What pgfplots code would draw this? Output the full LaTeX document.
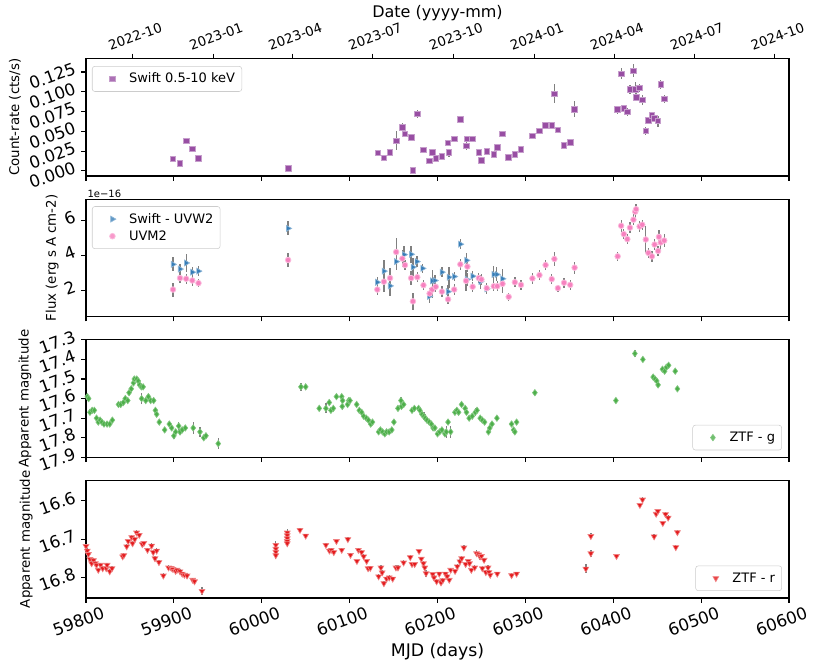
\documentclass[border=0pt]{standalone}
\usepackage{fontspec}
\setmainfont{DejaVu Sans}
\usepackage{pgfplots}
\usepackage{pgfplotstable}
\pgfplotsset{compat=1.18}

\definecolor{cpurple}{RGB}{152,78,163}
\definecolor{cblue}{RGB}{55,126,184}
\definecolor{cpink}{RGB}{247,129,191}
\definecolor{cgreen}{RGB}{77,175,74}
\definecolor{cred}{RGB}{228,26,28}

\newcommand{\bigtick}{\fontsize{12.5}{14}\selectfont}
\newcommand{\labfont}{\fontsize{10}{12}\selectfont}

\pgfplotstableread{
x y e
59899 0.0152 0.002
59907 0.0098 0.002
59914 0.038 0.003
59921 0.028 0.003
59928 0.016 0.002
60030 0.0034 0.001
60132 0.0228 0.003
60139 0.0165 0.002
60146 0.0237 0.004
60153.5 0.038 0.012
60160 0.055 0.005
60163 0.0466 0.004
60170 0.042 0.004
60172 0.0004 0.002
60177 0.072 0.005
60184 0.0266 0.003
60191 0.0127 0.003
60194 0.0232 0.003
60198 0.0156 0.002
60205 0.0182 0.002
60212 0.0355 0.004
60213 0.0232 0.005
60219 0.0406 0.004
60226 0.065 0.004
60233 0.0317 0.005
60234 0.0406 0.004
60240 0.0406 0.004
60247 0.0237 0.004
60250 0.0136 0.003
60256 0.0245 0.003
60264 0.0212 0.002
60268 0.030 0.004
60274 0.047 0.004
60281 0.0174 0.002
60288 0.0212 0.003
60295 0.027 0.004
60308 0.044 0.004
60316 0.0508 0.004
60323 0.0575 0.004
60330 0.0575 0.004
60333 0.0973 0.012
60337 0.0516 0.003
60344 0.0321 0.004
60351 0.0359 0.004
60356 0.078 0.010
60405 0.0774 0.005
60409 0.1227 0.007
60412 0.0787 0.004
60416 0.0745 0.005
60419 0.103 0.006
60423 0.1265 0.008
60425 0.103 0.009
60426 0.093 0.005
60429.5 0.105 0.005
60433 0.0897 0.006
60437 0.0504 0.005
60440 0.0638 0.004
60444 0.0698 0.004
60447 0.0664 0.004
60451 0.063 0.007
60454 0.109 0.006
60458 0.091 0.005
}\xraydata

\pgfplotstableread{
x y e
59899 3.49 0.4
59907 3.22 0.3
59914 3.57 0.5
59921 3.04 0.3
59928 3.10 0.3
60030 5.56 0.4
60131.5 2.46 0.3
60139 3.10 0.65
60146 2.25 0.6
60153 3.65 0.5
60162 4.05 0.5
60170 4.07 0.5
60172 3.33 0.5
60176.5 3.65 0.3
60183 3.26 0.25
60190.6 1.65 0.4
60194 2.54 0.6
60197 2.56 0.3
60205 3.04 0.3
60212 1.92 0.4
60213 2.75 0.6
60219 2.79 0.25
60226 4.65 0.3
60233 3.72 0.4
60233.5 2.62 0.4
60240 2.81 0.3
60249 2.50 0.4
60256 2.08 0.3
60264 2.91 0.5
60267.5 2.91 0.4
60274 2.66 0.55
}\uvwdata

\pgfplotstableread{
x y e
59899 2.04 0.4
59907 2.70 0.3
59914 2.66 0.3
59921 2.56 0.3
59928 2.41 0.25
60030 3.74 0.4
60131.5 2.04 0.3
60139 2.49 0.6
60146 2.70 0.6
60153 4.20 0.8
60160 3.82 0.5
60163 3.45 0.3
60170 2.70 0.4
60172 1.36 0.5
60177 2.75 0.3
60184 2.29 0.3
60191 1.81 0.3
60194 2.04 0.5
60198 2.20 0.3
60205 1.92 0.3
60212 1.48 0.3
60219 2.04 0.3
60226 3.49 0.3
60232.5 2.54 0.6
60234 3.36 0.3
60240 2.20 0.3
60247 2.70 0.3
60250 2.62 0.3
60256 2.12 0.3
60264 2.23 0.3
60268 2.23 0.3
60274 2.37 0.5
60281 1.62 0.25
60288 2.46 0.3
60295 2.31 0.3
60308 2.68 0.3
60316 2.87 0.3
60323 3.45 0.3
60330 2.64 0.3
60333 3.80 0.4
60337 2.12 0.2
60344 2.43 0.3
60351 2.31 0.3
60356 3.30 0.35
60405 3.95 0.25
60409 5.71 0.35
60412 5.23 0.3
60416 4.94 0.3
60419 5.60 0.3
60423 6.06 0.3
60425 6.52 0.35
60426 6.66 0.3
60430 5.67 0.3
60433 5.77 0.3
60437 4.92 0.75
60440 4.15 0.3
60444 3.95 0.3
60447 4.63 0.3
60451 4.26 0.3
60452 5.07 0.4
60454 4.75 0.5
60458 4.86 0.4
}\uvmdata

\pgfplotstableread{
x y e
59801.5 17.59 0.01
59803 17.60 0.01
59804.5 17.67 0.015
59807 17.66 0.01
59809.5 17.66 0.01
59812 17.70 0.01
59814 17.72 0.01
59816 17.71 0.01
59818 17.72 0.01
59820.5 17.73 0.01
59824 17.73 0.01
59827 17.73 0.01
59830 17.71 0.01
59837 17.63 0.01
59839.5 17.63 0.01
59842.5 17.62 0.01
59844.7 17.60 0.01
59847.5 17.61 0.01
59849 17.57 0.01
59851.5 17.55 0.01
59854 17.52 0.01
59855 17.50 0.01
59857.7 17.50 0.01
59859.5 17.51 0.01
59861 17.53 0.01
59863 17.54 0.01
59865 17.54 0.01
59863.3 17.60 0.03
59868 17.61 0.01
59871 17.59 0.01
59873.6 17.61 0.01
59877 17.61 0.01
59879 17.66 0.01
59880.4 17.68 0.01
59883.4 17.72 0.01
59889.5 17.76 0.015
59894.8 17.73 0.01
59897.5 17.75 0.01
59900 17.79 0.015
59902 17.77 0.015
59905.5 17.74 0.02
59907 17.77 0.015
59909.5 17.76 0.01
59913 17.75 0.01
59922 17.75 0.03
59929.7 17.77 0.025
59934 17.80 0.015
59936.5 17.79 0.01
59950.5 17.83 0.03
60044.6 17.54 0.02
60050 17.54 0.01
60065.4 17.65 0.01
60073 17.65 0.025
60076.8 17.62 0.01
60078.7 17.66 0.01
60081.4 17.65 0.01
60085 17.59 0.01
60091 17.59 0.01
60091.6 17.64 0.02
60092 17.61 0.01
60097.7 17.63 0.01
60099 17.61 0.01
60100.4 17.61 0.015
60108 17.63 0.01
60111 17.66 0.01
60113.7 17.67 0.01
60116 17.69 0.01
60119 17.70 0.01
60121.4 17.71 0.01
60124 17.73 0.01
60126 17.72 0.01
60133 17.77 0.01
60135 17.76 0.01
60137.5 17.77 0.01
60140 17.78 0.01
60142 17.77 0.01
60145 17.77 0.01
60148 17.76 0.01
60150.4 17.72 0.01
60155 17.65 0.01
60158.4 17.61 0.02
60159 17.64 0.01
60161.5 17.63 0.01
60171 17.66 0.01
60173.7 17.65 0.01
60178.5 17.65 0.01
60180 17.66 0.01
60182.3 17.68 0.01
60184.5 17.69 0.02
60186 17.70 0.02
60188 17.71 0.01
60190.6 17.72 0.01
60193 17.73 0.01
60195 17.75 0.01
60197 17.75 0.01
60200 17.78 0.01
60202.4 17.77 0.01
60205 17.76 0.01
60208.5 17.78 0.01
60210 17.77 0.03
60212 17.72 0.01
60215 17.77 0.03
60219.8 17.67 0.01
60222 17.66 0.01
60224 17.67 0.01
60227.4 17.63 0.01
60231.5 17.65 0.01
60233 17.67 0.01
60236 17.70 0.01
60239.5 17.69 0.01
60243 17.67 0.02
60245 17.66 0.01
60248.6 17.70 0.01
60251 17.71 0.01
60253.6 17.72 0.01
60258 17.77 0.01
60259.5 17.75 0.01
60262 17.73 0.01
60267.6 17.70 0.01
60284.3 17.73 0.015
60286.6 17.76 0.01
60288 17.77 0.01
60290 17.72 0.01
60310.8 17.57 0.01
60403 17.61 0.015
60424.6 17.37 0.02
60433.7 17.40 0.01
60445.4 17.49 0.01
60447.5 17.50 0.01
60449.5 17.51 0.01
60451 17.53 0.01
60456 17.45 0.01
60458.5 17.46 0.01
60460.5 17.44 0.01
60463 17.43 0.01
60470.5 17.46 0.01
60473 17.55 0.01
}\gdata

\pgfplotstableread{
x y e
59800 16.718 0.006
59801.5 16.730 0.006
59802.7 16.739 0.006
59804.5 16.752 0.006
59806.4 16.763 0.006
59808.5 16.755 0.006
59810.6 16.763 0.006
59812 16.767 0.006
59814 16.780 0.006
59816.6 16.767 0.006
59819 16.776 0.006
59823 16.776 0.006
59824 16.767 0.006
59827 16.784 0.006
59829.6 16.776 0.006
59841.7 16.745 0.006
59843 16.742 0.006
59846.3 16.719 0.006
59848 16.705 0.006
59852 16.695 0.006
59853 16.711 0.006
59855.5 16.700 0.006
59857.6 16.683 0.006
59860.6 16.689 0.006
59864 16.713 0.006
59865.8 16.710 0.006
59870 16.728 0.006
59874.7 16.717 0.006
59876.5 16.734 0.006
59878.5 16.750 0.006
59880.4 16.730 0.006
59883 16.760 0.006
59888 16.795 0.008
59894 16.774 0.006
59897 16.775 0.006
59899 16.778 0.006
59902 16.783 0.008
59903.6 16.780 0.006
59907 16.784 0.006
59909.5 16.790 0.006
59912 16.793 0.006
59915 16.795 0.006
59921.4 16.806 0.006
59923.5 16.810 0.006
59932 16.835 0.010
60016 16.715 0.010
60016 16.725 0.010
60016 16.733 0.010
60016 16.742 0.010
60029 16.683 0.010
60029 16.690 0.010
60029 16.698 0.010
60029 16.705 0.010
60029 16.711 0.010
60043.5 16.676 0.006
60050 16.691 0.006
60073 16.715 0.006
60077 16.730 0.006
60079 16.728 0.006
60082 16.734 0.006
60085 16.705 0.006
60091 16.728 0.006
60098 16.700 0.006
60101 16.741 0.006
60108.3 16.757 0.006
60110 16.728 0.006
60113.6 16.734 0.006
60116 16.745 0.006
60119.4 16.757 0.006
60121 16.776 0.006
60123.5 16.775 0.006
60133 16.797 0.006
60135.6 16.774 0.006
60137 16.787 0.006
60139 16.815 0.006
60142 16.803 0.006
60145 16.800 0.006
60149 16.803 0.006
60152.7 16.774 0.006
60155 16.774 0.006
60161.4 16.761 0.006
60169 16.747 0.006
60171 16.765 0.006
60174 16.765 0.006
60179 16.731 0.006
60181.6 16.751 0.006
60184 16.763 0.006
60185.5 16.774 0.006
60187 16.789 0.008
60194.5 16.791 0.006
60196 16.800 0.006
60199 16.810 0.006
60202 16.790 0.006
60204 16.813 0.006
60206 16.807 0.006
60209 16.790 0.006
60211 16.797 0.006
60213.4 16.806 0.006
60215 16.780 0.006
60220 16.783 0.006
60222.5 16.771 0.006
60225.5 16.758 0.006
60227.5 16.750 0.006
60230 16.722 0.006
60232 16.765 0.006
60235 16.757 0.006
60236.4 16.763 0.006
60238.5 16.780 0.006
60242.3 16.774 0.006
60244.5 16.737 0.008
60247 16.740 0.008
60248.5 16.745 0.010
60250 16.744 0.006
60251 16.776 0.006
60253 16.754 0.006
60255 16.786 0.006
60257.5 16.774 0.006
60258.5 16.786 0.006
60260 16.793 0.006
60268 16.790 0.006
60284.3 16.794 0.006
60290 16.790 0.006
60368.8 16.777 0.012
60374.5 16.737 0.008
60374.5 16.692 0.008
60403.7 16.744 0.006
60430.3 16.611 0.006
60433.3 16.597 0.006
60446.5 16.693 0.006
60448.8 16.634 0.006
60450.7 16.627 0.006
60456.4 16.658 0.006
60459.5 16.635 0.006
60462.5 16.644 0.006
60471.2 16.721 0.006
60473 16.682 0.006
}\rdata

\pgfplotsset{
  panel/.style={
    scale only axis, width=527.25pt, height=88.1pt, anchor=south west,
    xmin=59800, xmax=60600, scaled x ticks=false, scaled y ticks=false,
    xtick={59800,59900,60000,60100,60200,60300,60400,60500,60600},
    xtick pos=bottom, ytick pos=left, tick align=outside, major tick length=3.6pt,
    axis line style={line width=0.8pt},
    tick style={black, line width=0.8pt},
    yticklabel style={font=\bigtick, rotate=20, anchor=base east},
    ylabel style={font=\labfont, anchor=center},
    legend style={draw=black!20, rounded corners=2pt, font=\fontsize{9.75}{12}\selectfont,
      fill=white, fill opacity=0.8, text opacity=1, cells={anchor=west},
      inner xsep=3pt, inner ysep=3pt},
  },
  errp/.style={only marks,
    legend image code/.code={\path (0cm,0cm) (0.78cm,0cm); \draw[mark repeat=2,mark phase=2,##1] plot coordinates {(0cm,0cm) (0.42cm,0cm) (0.84cm,0cm)};},
    error bars/y dir=both, error bars/y explicit, error bars/error mark=none,
    error bars/error bar style={color=gray, line width=1pt}},
}

\begin{document}
\begin{tikzpicture}
\path[use as bounding box] (0,0) rectangle (612pt,499.5pt);

% Panel 1
\begin{axis}[panel, at={(64.5pt,367.5pt)},
  xticklabels={},
  ymin=-0.0064, ymax=0.142,
  ytick={0,0.025,0.05,0.075,0.1,0.125},
  yticklabels={0.000,0.025,0.050,0.075,0.100,0.125},
  ylabel={Count-rate (cts/s)},
  ylabel style={at={(axis description cs:-0.101,0.5)}},
  legend style={at={(0.0085,0.936)}, anchor=north west},
]
\addplot[errp, mark=square*, mark size=2.1pt, mark options={fill=cpurple, draw=cpurple!55, line width=0.6pt}]
  table[x=x, y=y, y error=e] {\xraydata};
\addlegendentry{Swift 0.5-10 keV}
\end{axis}

% Date axis on top of panel 1
\begin{axis}[scale only axis, width=527.25pt, height=88.1pt, anchor=south west,
  at={(64.5pt,367.5pt)},
  xmin=59800, xmax=60600, ymin=0, ymax=1, scaled x ticks=false,
  axis x line*=top, hide y axis,
  axis line style={line width=0.8pt}, tick style={black, line width=0.8pt},
  tick align=outside, major tick length=3.6pt,
  xtick={59853,59945,60035,60126,60218,60310,60401,60492,60584},
  xticklabels={2022-10,2023-01,2023-04,2023-07,2023-10,2024-01,2024-04,2024-07,2024-10},
  xticklabel style={font=\labfont, anchor=center, xshift=2pt, yshift=13pt, rotate=20},
  xlabel={Date (yyyy-mm)},
  xlabel style={font=\fontsize{12}{14}\selectfont, at={(axis description cs:0.5,1.385)}, anchor=center},
]
\end{axis}

% Panel 2
\begin{axis}[panel, at={(64.5pt,262pt)},
  xticklabels={},
  ymin=0.48, ymax=7.24,
  ytick={2,4,6}, yticklabels={2,4,6},
  ylabel={Flux (erg s A cm-2)},
  ylabel style={at={(axis description cs:-0.048,0.5)}},
  legend style={at={(0.0085,0.94)}, anchor=north west},
]
\addplot[errp, mark=triangle*, mark size=2.6pt, mark options={rotate=-90, fill=cblue, draw=cblue!55, line width=0.5pt}]
  table[x=x, y=y, y error=e] {\uvwdata};
\addlegendentry{Swift - UVW2}
\addplot[errp, mark=*, mark size=2.1pt, mark options={fill=cpink, draw=cpink!55, line width=0.6pt}]
  table[x=x, y=y, y error=e] {\uvmdata};
\addlegendentry{UVM2}
\end{axis}
\node[anchor=south west, inner sep=1pt, font=\fontsize{7.5}{9}\selectfont] at (64.5pt,350.3pt) {1e−16};

% Panel 3
\begin{axis}[panel, at={(64.5pt,156.5pt)},
  xticklabels={},
  y dir=reverse, ymin=17.3, ymax=17.9,
  ytick={17.3,17.4,17.5,17.6,17.7,17.8,17.9},
  yticklabels={17.3,17.4,17.5,17.6,17.7,17.8,17.9},
  ylabel={Apparent magnitude},
  ylabel style={at={(axis description cs:-0.087,0.5)}},
  legend style={at={(0.99,0.06)}, anchor=south east},
]
\addplot[errp, mark=diamond*, mark size=2.4pt, mark options={fill=cgreen, draw=cgreen!70, line width=0.5pt}]
  table[x=x, y=y, y error=e] {\gdata};
\addlegendentry{ZTF - g}
\end{axis}

% Panel 4
\begin{axis}[panel, at={(64.5pt,51pt)},
  xticklabels={59800,59900,60000,60100,60200,60300,60400,60500,60600},
  xticklabel style={font=\bigtick, anchor=center, xshift=-5.6pt, yshift=-14pt, rotate=20},
  xlabel={MJD (days)},
  xlabel style={font=\fontsize{13}{15}\selectfont, at={(axis description cs:0.5,-0.455)}, anchor=center},
  y dir=reverse, ymin=16.547, ymax=16.853,
  ytick={16.6,16.7,16.8}, yticklabels={16.6,16.7,16.8},
  ylabel={Apparent magnitude},
  ylabel style={at={(axis description cs:-0.085,0.5)}},
  legend style={at={(0.99,0.06)}, anchor=south east},
]
\addplot[errp, mark=triangle*, mark size=2.5pt, mark options={rotate=180, fill=cred, draw=cred!55, line width=0.5pt}]
  table[x=x, y=y, y error=e] {\rdata};
\addlegendentry{ZTF - r}
\end{axis}
\end{tikzpicture}
\end{document}
